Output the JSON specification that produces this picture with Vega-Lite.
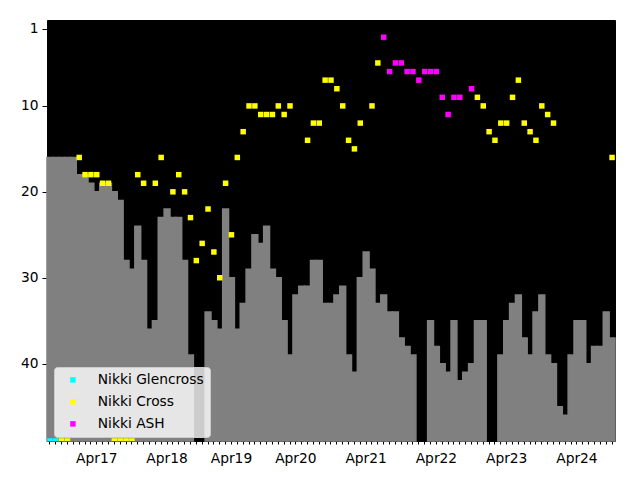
{
  "$schema": "https://vega.github.io/schema/vega-lite/v6.json",
  "width": 568,
  "height": 421,
  "autosize": {"type": "none"},
  "padding": {"left": 47, "top": 20, "right": 25, "bottom": 39},
  "background": "white",
  "config": {
    "view": {"fill": "black", "stroke": "black", "strokeWidth": 1},
    "font": "DejaVu Sans",
    "axis": {"labelFont": "DejaVu Sans", "labelFontSize": 13.8, "labelColor": "black", "domainColor": "black", "tickColor": "black", "grid": false, "title": null}
  },
  "datasets": {
    "bars": [
      {"m": "2016-08", "v": 16}, {"m": "2016-09", "v": 16}, {"m": "2016-10", "v": 16}, {"m": "2016-11", "v": 16}, {"m": "2016-12", "v": 16},
      {"m": "2017-01", "v": 18}, {"m": "2017-02", "v": 18}, {"m": "2017-03", "v": 19}, {"m": "2017-04", "v": 20}, {"m": "2017-05", "v": 19},
      {"m": "2017-06", "v": 19}, {"m": "2017-07", "v": 20}, {"m": "2017-08", "v": 21}, {"m": "2017-09", "v": 28}, {"m": "2017-10", "v": 29},
      {"m": "2017-11", "v": 24}, {"m": "2017-12", "v": 28}, {"m": "2018-01", "v": 36}, {"m": "2018-02", "v": 35}, {"m": "2018-03", "v": 23},
      {"m": "2018-04", "v": 22}, {"m": "2018-05", "v": 23}, {"m": "2018-06", "v": 23}, {"m": "2018-07", "v": 28}, {"m": "2018-08", "v": 39},
      {"m": "2018-11", "v": 34}, {"m": "2018-12", "v": 35}, {"m": "2019-02", "v": 36}, {"m": "2019-03", "v": 22}, {"m": "2019-04", "v": 30},
      {"m": "2019-05", "v": 36}, {"m": "2019-06", "v": 33}, {"m": "2019-07", "v": 29}, {"m": "2019-08", "v": 25}, {"m": "2019-09", "v": 26},
      {"m": "2019-10", "v": 24}, {"m": "2019-11", "v": 29}, {"m": "2019-12", "v": 30}, {"m": "2020-02", "v": 35}, {"m": "2020-03", "v": 39},
      {"m": "2020-04", "v": 32}, {"m": "2020-05", "v": 31}, {"m": "2020-06", "v": 31}, {"m": "2020-07", "v": 28}, {"m": "2020-08", "v": 28},
      {"m": "2020-09", "v": 33}, {"m": "2020-10", "v": 33}, {"m": "2020-11", "v": 32}, {"m": "2020-12", "v": 31}, {"m": "2021-01", "v": 39},
      {"m": "2021-02", "v": 41}, {"m": "2021-03", "v": 30}, {"m": "2021-04", "v": 27}, {"m": "2021-05", "v": 29}, {"m": "2021-06", "v": 33},
      {"m": "2021-07", "v": 32}, {"m": "2021-08", "v": 34}, {"m": "2021-09", "v": 34}, {"m": "2021-10", "v": 37}, {"m": "2021-11", "v": 38},
      {"m": "2021-12", "v": 39}, {"m": "2022-03", "v": 35}, {"m": "2022-04", "v": 38}, {"m": "2022-05", "v": 40}, {"m": "2022-06", "v": 41},
      {"m": "2022-07", "v": 35}, {"m": "2022-08", "v": 42}, {"m": "2022-09", "v": 41}, {"m": "2022-10", "v": 40}, {"m": "2022-11", "v": 35},
      {"m": "2022-12", "v": 35}, {"m": "2023-03", "v": 39}, {"m": "2023-04", "v": 35}, {"m": "2023-05", "v": 33}, {"m": "2023-06", "v": 32},
      {"m": "2023-07", "v": 37}, {"m": "2023-08", "v": 39}, {"m": "2023-09", "v": 34}, {"m": "2023-10", "v": 32}, {"m": "2023-11", "v": 39},
      {"m": "2023-12", "v": 40}, {"m": "2024-01", "v": 45}, {"m": "2024-02", "v": 46}, {"m": "2024-03", "v": 39}, {"m": "2024-04", "v": 35},
      {"m": "2024-05", "v": 35}, {"m": "2024-06", "v": 40}, {"m": "2024-07", "v": 38}, {"m": "2024-08", "v": 38}, {"m": "2024-09", "v": 34},
      {"m": "2024-10", "v": 37}
    ],
    "pts": [
      {"m": "2016-08", "name": "Nikki Glencross", "rank": 49}, {"m": "2016-09", "name": "Nikki Glencross", "rank": 49},
      {"m": "2016-10", "name": "Nikki Cross", "rank": 49}, {"m": "2016-11", "name": "Nikki Cross", "rank": 49},
      {"m": "2017-01", "name": "Nikki Cross", "rank": 16}, {"m": "2017-02", "name": "Nikki Cross", "rank": 18},
      {"m": "2017-03", "name": "Nikki Cross", "rank": 18}, {"m": "2017-04", "name": "Nikki Cross", "rank": 18},
      {"m": "2017-05", "name": "Nikki Cross", "rank": 19}, {"m": "2017-06", "name": "Nikki Cross", "rank": 19},
      {"m": "2017-07", "name": "Nikki Cross", "rank": 49}, {"m": "2017-08", "name": "Nikki Cross", "rank": 49},
      {"m": "2017-09", "name": "Nikki Cross", "rank": 49}, {"m": "2017-10", "name": "Nikki Cross", "rank": 49},
      {"m": "2017-11", "name": "Nikki Cross", "rank": 18}, {"m": "2017-12", "name": "Nikki Cross", "rank": 19},
      {"m": "2018-02", "name": "Nikki Cross", "rank": 19}, {"m": "2018-03", "name": "Nikki Cross", "rank": 16},
      {"m": "2018-05", "name": "Nikki Cross", "rank": 20}, {"m": "2018-06", "name": "Nikki Cross", "rank": 18},
      {"m": "2018-07", "name": "Nikki Cross", "rank": 20}, {"m": "2018-08", "name": "Nikki Cross", "rank": 23},
      {"m": "2018-09", "name": "Nikki Cross", "rank": 28}, {"m": "2018-10", "name": "Nikki Cross", "rank": 26},
      {"m": "2018-11", "name": "Nikki Cross", "rank": 22}, {"m": "2018-12", "name": "Nikki Cross", "rank": 27},
      {"m": "2019-02", "name": "Nikki Cross", "rank": 30}, {"m": "2019-03", "name": "Nikki Cross", "rank": 19},
      {"m": "2019-04", "name": "Nikki Cross", "rank": 25}, {"m": "2019-05", "name": "Nikki Cross", "rank": 16},
      {"m": "2019-06", "name": "Nikki Cross", "rank": 13}, {"m": "2019-07", "name": "Nikki Cross", "rank": 10},
      {"m": "2019-08", "name": "Nikki Cross", "rank": 10}, {"m": "2019-09", "name": "Nikki Cross", "rank": 11},
      {"m": "2019-10", "name": "Nikki Cross", "rank": 11}, {"m": "2019-11", "name": "Nikki Cross", "rank": 11},
      {"m": "2019-12", "name": "Nikki Cross", "rank": 10}, {"m": "2020-02", "name": "Nikki Cross", "rank": 11},
      {"m": "2020-03", "name": "Nikki Cross", "rank": 10}, {"m": "2020-06", "name": "Nikki Cross", "rank": 14},
      {"m": "2020-07", "name": "Nikki Cross", "rank": 12}, {"m": "2020-08", "name": "Nikki Cross", "rank": 12},
      {"m": "2020-09", "name": "Nikki Cross", "rank": 7}, {"m": "2020-10", "name": "Nikki Cross", "rank": 7},
      {"m": "2020-11", "name": "Nikki Cross", "rank": 8}, {"m": "2020-12", "name": "Nikki Cross", "rank": 10},
      {"m": "2021-01", "name": "Nikki Cross", "rank": 14}, {"m": "2021-02", "name": "Nikki Cross", "rank": 15},
      {"m": "2021-03", "name": "Nikki Cross", "rank": 12}, {"m": "2021-05", "name": "Nikki Cross", "rank": 10},
      {"m": "2021-06", "name": "Nikki Cross", "rank": 5},
      {"m": "2021-07", "name": "Nikki ASH", "rank": 2}, {"m": "2021-08", "name": "Nikki ASH", "rank": 6},
      {"m": "2021-09", "name": "Nikki ASH", "rank": 5}, {"m": "2021-10", "name": "Nikki ASH", "rank": 5},
      {"m": "2021-11", "name": "Nikki ASH", "rank": 6}, {"m": "2021-12", "name": "Nikki ASH", "rank": 6},
      {"m": "2022-01", "name": "Nikki ASH", "rank": 7}, {"m": "2022-02", "name": "Nikki ASH", "rank": 6},
      {"m": "2022-03", "name": "Nikki ASH", "rank": 6}, {"m": "2022-04", "name": "Nikki ASH", "rank": 6},
      {"m": "2022-05", "name": "Nikki ASH", "rank": 9}, {"m": "2022-06", "name": "Nikki ASH", "rank": 11},
      {"m": "2022-07", "name": "Nikki ASH", "rank": 9}, {"m": "2022-08", "name": "Nikki ASH", "rank": 9},
      {"m": "2022-10", "name": "Nikki ASH", "rank": 8},
      {"m": "2022-11", "name": "Nikki Cross", "rank": 9}, {"m": "2022-12", "name": "Nikki Cross", "rank": 10},
      {"m": "2023-01", "name": "Nikki Cross", "rank": 13}, {"m": "2023-02", "name": "Nikki Cross", "rank": 14},
      {"m": "2023-03", "name": "Nikki Cross", "rank": 12}, {"m": "2023-04", "name": "Nikki Cross", "rank": 12},
      {"m": "2023-05", "name": "Nikki Cross", "rank": 9}, {"m": "2023-06", "name": "Nikki Cross", "rank": 7},
      {"m": "2023-07", "name": "Nikki Cross", "rank": 12}, {"m": "2023-08", "name": "Nikki Cross", "rank": 13},
      {"m": "2023-09", "name": "Nikki Cross", "rank": 14}, {"m": "2023-10", "name": "Nikki Cross", "rank": 10},
      {"m": "2023-11", "name": "Nikki Cross", "rank": 11}, {"m": "2023-12", "name": "Nikki Cross", "rank": 12},
      {"m": "2024-10", "name": "Nikki Cross", "rank": 16}
    ]
  },
  "layer": [
    {
      "data": {"name": "bars"},
      "mark": {"type": "bar", "color": "#808080", "stroke": "#808080", "strokeWidth": 1.5},
      "encoding": {
        "x": {
          "field": "m",
          "type": "ordinal",
          "scale": {"type": "band", "paddingInner": 0, "paddingOuter": 0},
          "axis": {
            "labelAngle": 0,
            "labelOverlap": false,
            "labelFlush": false,
            "labelBound": false,
            "tickSize": 3,
            "labelPadding": 7,
            "domain": false,
            "labelExpr": "substring(datum.value, 5, 7) == '04' ? 'Apr' + substring(datum.value, 2, 4) : ''"
          }
        },
        "y": {
          "field": "v",
          "type": "quantitative",
          "scale": {"domain": [0, 49], "reverse": true, "nice": false, "zero": false},
          "axis": {"values": [1, 10, 20, 30, 40], "tickSize": 5, "labelPadding": 4, "domain": false}
        },
        "y2": {"datum": 49}
      }
    },
    {
      "data": {"name": "pts"},
      "mark": {"type": "square", "size": 30, "opacity": 1, "clip": true},
      "encoding": {
        "x": {"field": "m", "type": "ordinal"},
        "y": {"field": "rank", "type": "quantitative"},
        "color": {
          "field": "name",
          "type": "nominal",
          "scale": {"domain": ["Nikki Glencross", "Nikki Cross", "Nikki ASH"], "range": ["#00ffff", "#ffff00", "#ff00ff"]},
          "legend": {
            "title": null,
            "orient": "none",
            "legendX": 7,
            "legendY": 347,
            "symbolType": "square",
            "symbolSize": 30,
            "symbolStrokeWidth": 0,
            "labelFont": "DejaVu Sans",
            "labelFontSize": 13.8,
            "labelColor": "black",
            "fillColor": "rgba(255,255,255,0.8)",
            "strokeColor": "#cccccc",
            "cornerRadius": 3,
            "padding": 6,
            "rowPadding": 7,
            "symbolOffset": 6,
            "labelOffset": 18
          }
        }
      }
    }
  ]
}
